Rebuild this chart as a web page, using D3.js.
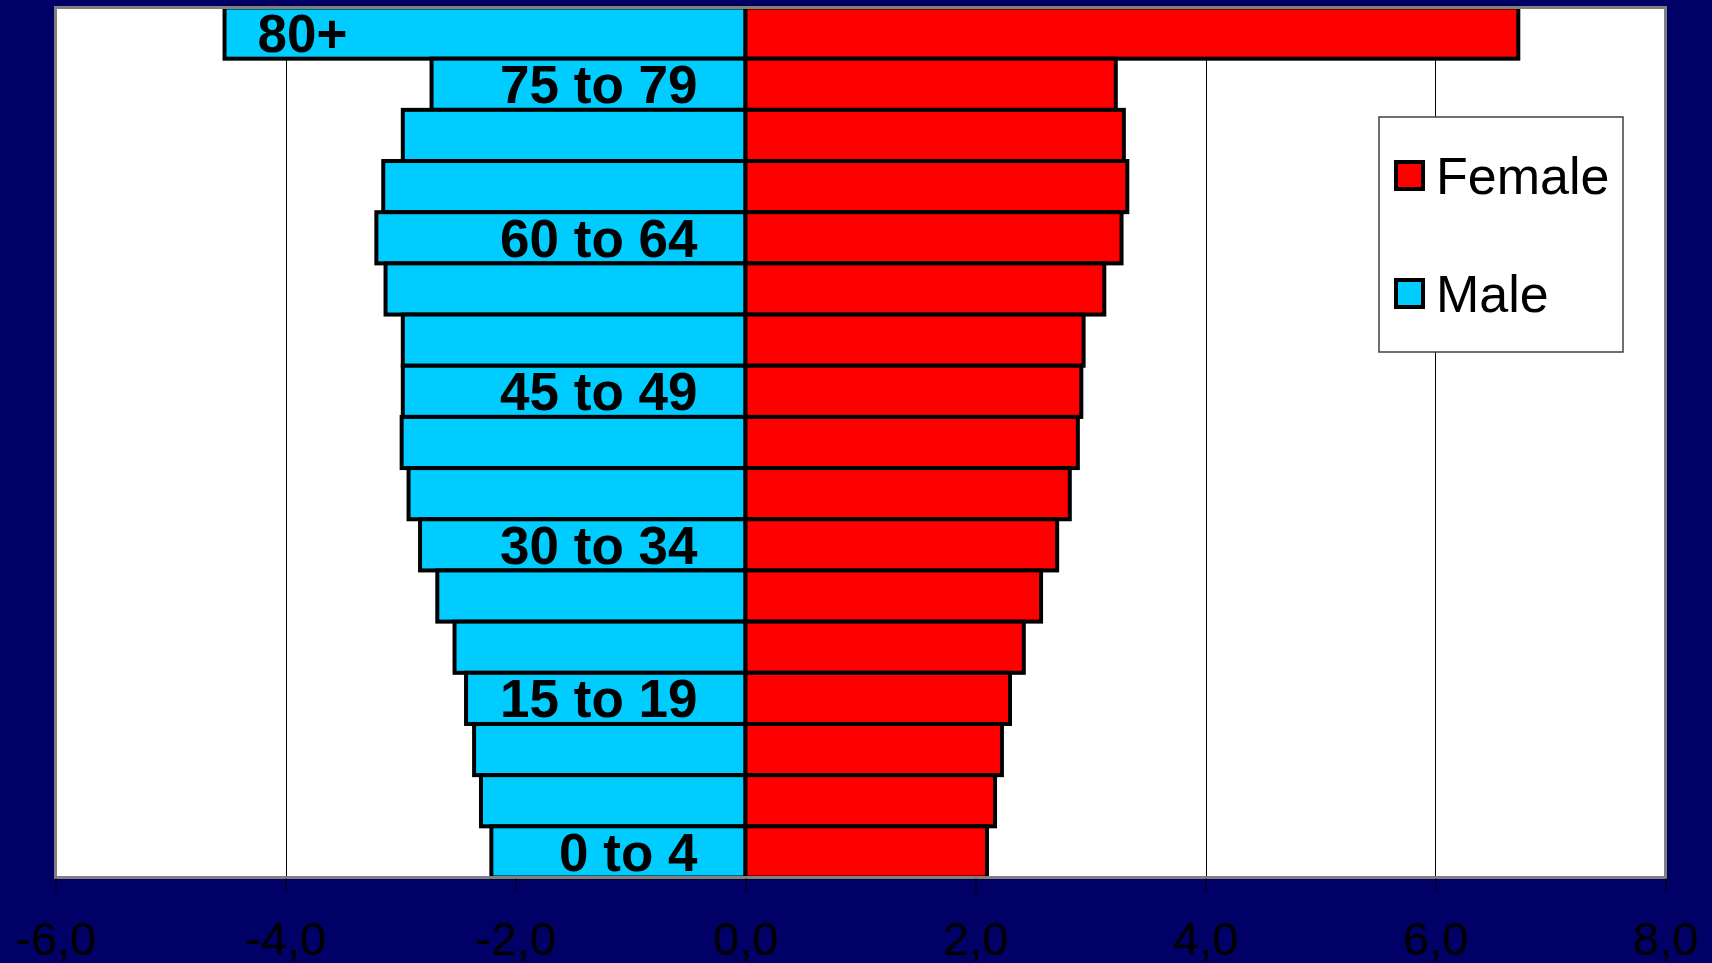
<!DOCTYPE html>
<html>
<head>
<meta charset="utf-8">
<script src="https://cdn.jsdelivr.net/npm/d3@7"></script>
<style>
  html, body { margin: 0; padding: 0; background: #000066; }
  svg { display: block; }
  text { font-family: "Liberation Sans", Arial, sans-serif; }
</style>
</head>
<body>
<svg id="chart" width="1712" height="963"></svg>
<script>
// Age groups, oldest first (top of the pyramid)
const ageGroups = ["80+", "75 to 79", "70 to 74", "65 to 69", "60 to 64", "55 to 59",
  "50 to 54", "45 to 49", "40 to 44", "35 to 39", "30 to 34", "25 to 29",
  "20 to 24", "15 to 19", "10 to 14", "5 to 9", "0 to 4"];

// Share of population (%) per age group
const maleValues = [4.53, 2.73, 2.98, 3.15, 3.21, 3.13, 2.98, 2.98, 2.99, 2.93,
  2.83, 2.68, 2.53, 2.43, 2.36, 2.30, 2.21];
const femaleValues = [6.72, 3.22, 3.29, 3.32, 3.27, 3.12, 2.94, 2.92, 2.89, 2.82,
  2.71, 2.57, 2.42, 2.30, 2.23, 2.17, 2.10];

// Category labels printed on the axis (every third group, plus the top one)
const shownAgeLabels = ["80+", "75 to 79", "60 to 64", "45 to 49", "30 to 34", "15 to 19", "0 to 4"];

const xTicks = [-6, -4, -2, 0, 2, 4, 6, 8];
const seriesNames = ["Female", "Male"];
const seriesColors = { Female: "#ff0000", Male: "#00ccff" };

const svg = d3.select("#chart");
const plot = { left: 55.5, right: 1665.5, top: 7.5, bottom: 877.5 };

const x = d3.scaleLinear().domain([-6, 8]).range([plot.left, plot.right]);
const y = d3.scaleBand().domain(ageGroups).range([plot.top, plot.bottom]).padding(0);

const commaLocale = d3.formatLocale({
  decimal: ",", thousands: ".", grouping: [3], currency: ["", ""], minus: "-"
});
const fmt = commaLocale.format(".1f");

// Plot area
svg.append("rect")
  .attr("x", plot.left).attr("y", plot.top)
  .attr("width", plot.right - plot.left).attr("height", plot.bottom - plot.top)
  .attr("fill", "#ffffff");

// Vertical gridlines
svg.append("g")
  .selectAll("line")
  .data(xTicks.filter(t => t > -6 && t < 8))
  .join("line")
  .attr("x1", d => Math.round(x(d)) + 0.5).attr("x2", d => Math.round(x(d)) + 0.5)
  .attr("y1", plot.top).attr("y2", plot.bottom)
  .attr("stroke", "#000000").attr("stroke-width", 1);

// Male bars (left side)
svg.append("g")
  .selectAll("rect")
  .data(ageGroups.map((g, i) => ({ g, v: maleValues[i] })))
  .join("rect")
  .attr("x", d => x(-d.v))
  .attr("y", d => y(d.g))
  .attr("width", d => x(0) - x(-d.v))
  .attr("height", y.bandwidth())
  .attr("fill", seriesColors.Male)
  .attr("stroke", "#000000").attr("stroke-width", 4);

// Female bars (right side)
svg.append("g")
  .selectAll("rect")
  .data(ageGroups.map((g, i) => ({ g, v: femaleValues[i] })))
  .join("rect")
  .attr("x", x(0))
  .attr("y", d => y(d.g))
  .attr("width", d => x(d.v) - x(0))
  .attr("height", y.bandwidth())
  .attr("fill", seriesColors.Female)
  .attr("stroke", "#000000").attr("stroke-width", 4);

// Plot area border
svg.append("rect")
  .attr("x", plot.left).attr("y", plot.top)
  .attr("width", plot.right - plot.left).attr("height", plot.bottom - plot.top)
  .attr("fill", "none").attr("stroke", "#808080").attr("stroke-width", 3);

// Category axis labels inside the male bars
const yAxis = d3.axisLeft(y)
  .tickValues(shownAgeLabels)
  .tickSize(0)
  .tickPadding(0);
const yAxisG = svg.append("g")
  .attr("transform", `translate(${x(0) - 48},0)`)
  .call(yAxis);
yAxisG.select(".domain").remove();
yAxisG.selectAll("text")
  .attr("dy", "0.36em")
  .attr("fill", "#000000")
  .style("font-family", "'Liberation Sans', Arial, sans-serif")
  .style("font-weight", "bold")
  .style("font-size", "53px");
// the open-ended top group sits further out along the bar
yAxisG.selectAll("text")
  .filter(d => d === ageGroups[0])
  .attr("x", -350);

// Value axis along the bottom
const xAxis = d3.axisBottom(x)
  .tickValues(xTicks)
  .tickSize(14)
  .tickPadding(29)
  .tickFormat(fmt);
const xAxisG = svg.append("g")
  .attr("transform", `translate(0,${plot.bottom + 1})`)
  .call(xAxis);
xAxisG.select(".domain").remove();
xAxisG.selectAll(".tick line").attr("stroke", "#000000");
xAxisG.selectAll("text")
  .attr("fill", "#000000")
  .attr("dy", "0.71em")
  .style("font-family", "'Liberation Sans', Arial, sans-serif")
  .style("font-size", "47px");

// Legend
const legend = svg.append("g").attr("transform", "translate(1379,117)");
legend.append("rect")
  .attr("width", 244).attr("height", 235)
  .attr("fill", "#ffffff").attr("stroke", "#404040").attr("stroke-width", 1.5);
const legendRow = d3.scaleOrdinal().domain(seriesNames).range([59, 177]);
const items = legend.selectAll("g.item")
  .data(seriesNames)
  .join("g")
  .attr("class", "item")
  .attr("transform", d => `translate(0,${legendRow(d)})`);
items.append("rect")
  .attr("x", 17).attr("y", -14)
  .attr("width", 27).attr("height", 27)
  .attr("fill", d => seriesColors[d])
  .attr("stroke", "#000000").attr("stroke-width", 4);
items.append("text")
  .attr("x", 57).attr("y", 18)
  .attr("fill", "#000000")
  .style("font-size", "52px")
  .text(d => d);
</script>
</body>
</html>
